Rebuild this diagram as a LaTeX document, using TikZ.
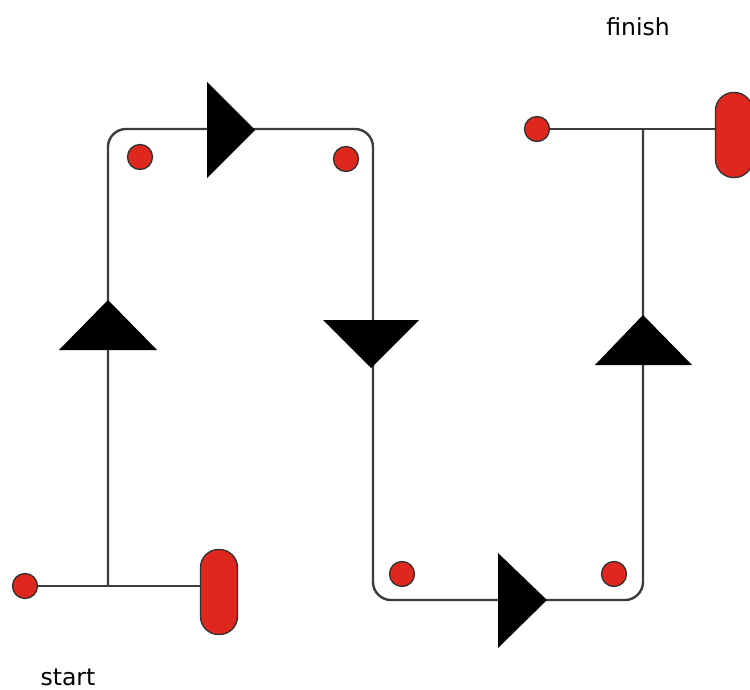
\documentclass[tikz,border=0pt]{standalone}
\usepackage{fontspec}
\setmainfont{DejaVu Sans}
\definecolor{dotred}{RGB}{222,40,30}
\definecolor{edge}{RGB}{60,60,60}
\begin{document}
\begin{tikzpicture}[x=1pt,y=-1pt,
  wire/.style={draw=edge,line width=2.4pt},
  dot/.style={circle,draw=edge!80!black,fill=dotred,line width=1.3pt,minimum size=25pt,inner sep=0pt},
  pill/.style={rectangle,rounded corners=18pt,draw=edge!80!black,fill=dotred,line width=1.3pt,minimum width=37pt,minimum height=85pt,inner sep=0pt},
  tri/.style={fill=black},
  lbl/.style={font=\fontsize{23.5}{27}\selectfont,text=black,inner sep=0pt}]
\useasboundingbox[fill=white] (0,0) rectangle (750,690);
% nodes
\node[dot] (d1) at (25,586) {};
\node[pill] (p1) at (219,592) {};
\node[dot] (d2) at (140,157) {};
\node[dot] (d3) at (346,159) {};
\node[dot] (d4) at (402,574) {};
\node[dot] (d5) at (614,574) {};
\node[dot] (d6) at (537,129) {};
\node[pill] (p2) at (734,135) {};
\coordinate (j1) at (108,586);
\coordinate (j2) at (643,129);
\node[lbl] (start) at (68,677) {start};
\node[lbl] (finish) at (638,27) {finish};
% wires
\draw[wire] (d1) -- (j1) -- (p1.west |- j1);
\draw[wire] (d6) -- (j2) -- (p2.west |- j2);
\draw[wire,rounded corners=18pt] (j1) -- (108,129) -- (373,129) -- (373,600) -- (643,600) -- (j2);
% triangles
\fill[tri] (108,300) -- (157,350) -- (59,350) -- cycle;
\fill[tri] (207,82) -- (255,130) -- (207,178) -- cycle;
\fill[tri] (323,320) -- (419,320) -- (371,368) -- cycle;
\fill[tri] (498,553) -- (547,600) -- (498,648) -- cycle;
\fill[tri] (643,315) -- (692,365) -- (595,365) -- cycle;
\end{tikzpicture}
\end{document}
